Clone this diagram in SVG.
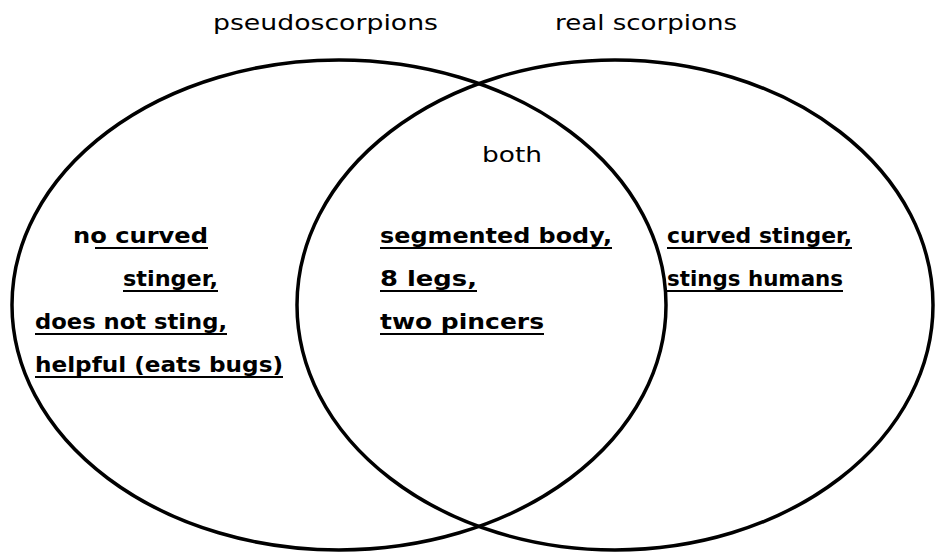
<svg xmlns="http://www.w3.org/2000/svg" width="935" height="554" viewBox="0 0 935 554">
<style>
.ring{fill:none;stroke:#000;stroke-width:3.5}
.lbl{font-family:"DejaVu Sans","Liberation Sans",sans-serif;font-size:22px;fill:#000}
.txt{font-family:"DejaVu Sans","Liberation Sans",sans-serif;font-size:21px;font-weight:bold;fill:#000}
.ul{stroke:#000;stroke-width:2}
</style>
<rect width="935" height="554" fill="#fff"/>
<g id="pseudoscorpions">
<ellipse class="ring" cx="339" cy="305" rx="327" ry="245"/>
<text class="lbl" x="213" y="30" textLength="225" lengthAdjust="spacingAndGlyphs">pseudoscorpions</text>
<text class="txt" x="73" y="243" textLength="135" lengthAdjust="spacingAndGlyphs">no curved</text>
<text class="txt" x="123" y="286" textLength="95" lengthAdjust="spacingAndGlyphs">stinger,</text>
<text class="txt" x="35" y="329" textLength="192" lengthAdjust="spacingAndGlyphs">does not sting,</text>
<text class="txt" x="35" y="372" textLength="248" lengthAdjust="spacingAndGlyphs">helpful (eats bugs)</text>
<line class="ul" x1="95" y1="248" x2="208" y2="248"/>
<line class="ul" x1="123" y1="291" x2="218" y2="291"/>
<line class="ul" x1="35" y1="334" x2="227" y2="334"/>
<line class="ul" x1="35" y1="377" x2="283" y2="377"/>
</g>
<g id="real-scorpions">
<ellipse class="ring" cx="615" cy="305" rx="318" ry="245"/>
<text class="lbl" x="555" y="30" textLength="182" lengthAdjust="spacingAndGlyphs">real scorpions</text>
<text class="txt" x="667" y="243" textLength="185" lengthAdjust="spacingAndGlyphs">curved stinger,</text>
<text class="txt" x="667" y="286" textLength="176" lengthAdjust="spacingAndGlyphs">stings humans</text>
<line class="ul" x1="667" y1="248" x2="852" y2="248"/>
<line class="ul" x1="667" y1="291" x2="843" y2="291"/>
</g>
<g id="both">
<text class="lbl" x="482" y="162" textLength="60" lengthAdjust="spacingAndGlyphs">both</text>
<text class="txt" x="380" y="243" textLength="232" lengthAdjust="spacingAndGlyphs">segmented body,</text>
<text class="txt" x="380" y="286" textLength="97" lengthAdjust="spacingAndGlyphs">8 legs,</text>
<text class="txt" x="380" y="329" textLength="164" lengthAdjust="spacingAndGlyphs">two pincers</text>
<line class="ul" x1="380" y1="248" x2="612" y2="248"/>
<line class="ul" x1="380" y1="291" x2="477" y2="291"/>
<line class="ul" x1="380" y1="334" x2="544" y2="334"/>
</g>
<g id="connectors"></g>
</svg>
